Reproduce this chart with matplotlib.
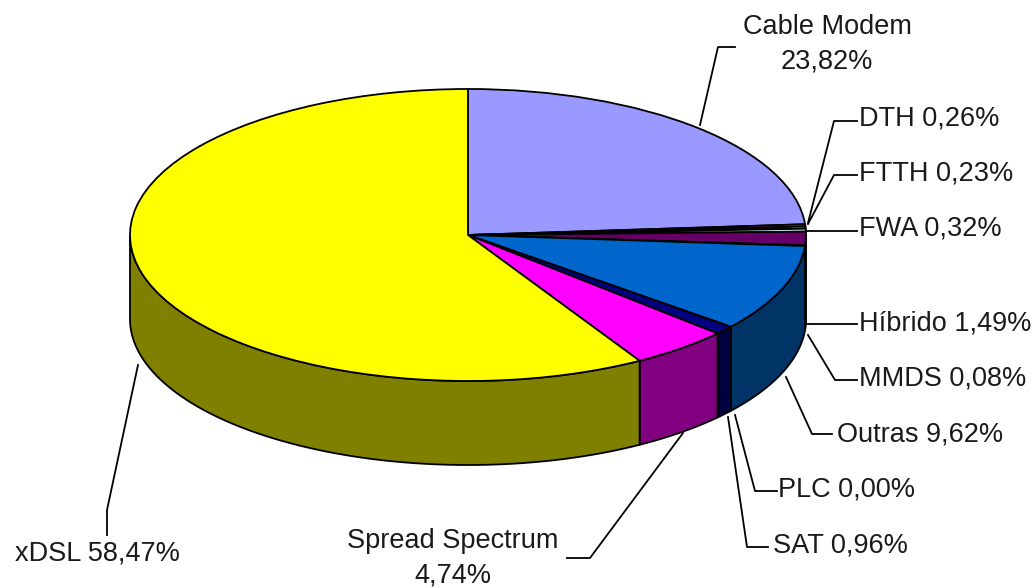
import numpy as np
import matplotlib
matplotlib.use("Agg")
import matplotlib.pyplot as plt

# ------------------------
# Data
# ------------------------
names = ["Cable Modem", "DTH", "FTTH", "FWA", "Híbrido", "MMDS",
         "Outras", "PLC", "SAT", "Spread Spectrum", "xDSL"]
values = [23.82, 0.26, 0.23, 0.32, 1.49, 0.08, 9.62, 0.00, 0.96, 4.74, 58.47]
colors = ["#9999FF", "#993366", "#FFFFCC", "#CCFFFF", "#660066", "#FF8080",
          "#0066CC", "#CCCCFF", "#000080", "#FF00FF", "#FFFF00"]

# pie geometry in pixels of the 1036x588 picture
W, H = 1036, 588
CX, CY = 468, 235
RX, RY = 338, 146
DEPTH = 84
LW = 1.3

plt.rcParams['font.family'] = ['Liberation Sans', 'DejaVu Sans']


def px(x, y):
    # picture pixels -> data units, where the pie has radius 1
    return (np.asarray(x) - CX) / RX, (CY - np.asarray(y)) / RY


fig = plt.figure(figsize=(W / 100, H / 100), dpi=100)
ax = fig.add_axes([0, 0, 1, 1])

# ------------------------
# Side wall (front half only)
# ------------------------
vals = np.array(values)
edges = np.concatenate([[0], np.cumsum(vals)]) / vals.sum() * 360
d = DEPTH / RY
for i in range(len(vals)):
    a0, a1 = max(edges[i], 90), min(edges[i + 1], 270)
    if a1 <= a0:
        continue
    t = np.radians(np.linspace(a0, a1, 80))
    xs, ys = np.sin(t), np.cos(t)
    shade = tuple(c * 0.5 for c in matplotlib.colors.to_rgb(colors[i]))
    ax.fill(np.r_[xs, xs[::-1]], np.r_[ys, ys[::-1] - d], facecolor=shade,
            edgecolor="black", linewidth=LW, zorder=0.5)

# ------------------------
# Top of the pie
# ------------------------
ax.pie(values, colors=colors, startangle=90, counterclock=False, radius=1,
       wedgeprops={"edgecolor": "black", "linewidth": LW})
ax.set_aspect("auto")
ax.set_xlim(-CX / RX, (W - CX) / RX)
ax.set_ylim((CY - H) / RY, CY / RY)
ax.axis("off")

# ------------------------
# Labels and leader lines
# ------------------------
labels = [f"{n} {v:.2f}%".replace(".", ",") for n, v in zip(names, values)]
labels[0] = labels[0].replace("Modem ", "Modem\n")
labels[9] = labels[9].replace("Spectrum ", "Spectrum\n")

label_pos = [(827, 44, "center"), (859, 119, "left"), (859, 174, "left"),
             (859, 229, "left"), (859, 324, "left"), (859, 379, "left"),
             (837, 435, "left"), (778, 490, "left"), (773, 545, "left"),
             (453, 558, "center"), (15, 554, "left")]

leaders = [[(700, 125), (718, 47), (735, 47)],
           [(808, 223), (834, 121), (857, 121)],
           [(808, 224), (834, 175), (857, 175)],
           [(807, 231), (857, 231)],
           [(807, 324), (857, 324)],
           [(808, 335), (835, 380), (857, 380)],
           [(786, 377), (812, 434), (832, 434)],
           [(735, 415), (755, 491), (777, 491)],
           [(728, 417), (747, 547), (768, 547)],
           [(683, 433), (590, 558), (567, 558)],
           [(138, 365), (107, 510), (107, 535)]]

for lab, (lx, ly, ha), pts in zip(labels, label_pos, leaders):
    x, y = px(lx, ly)
    ax.text(x, y, lab, ha=ha, va="center", ma="center", fontsize=19.5,
            color="#1a1a1a", linespacing=1.4)
    x, y = px(*zip(*pts))
    ax.plot(x, y, color="black", linewidth=LW, clip_on=False)

fig.savefig("out.png", dpi=100, facecolor="white")
